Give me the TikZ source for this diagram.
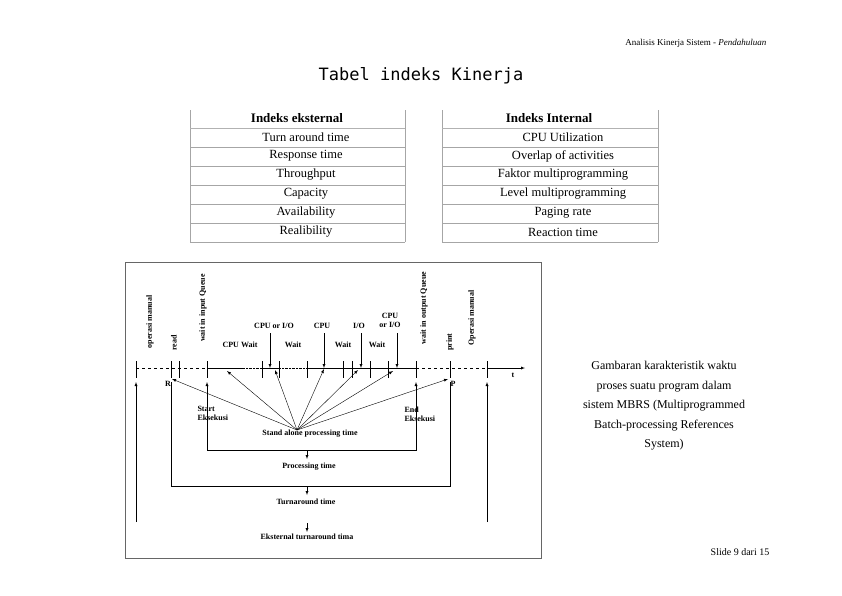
\documentclass[tikz,border=0pt]{standalone}
\usepackage{fontspec}
\setmainfont{Liberation Serif}
\newfontfamily\monof{DejaVu Sans Mono}
\begin{document}
\begin{tikzpicture}[x=1pt,y=-1pt,
  cell/.style={font=\fontsize{12.5}{14}\selectfont},
  hdr/.style={font=\bfseries\fontsize{13}{14}\selectfont},
  lab/.style={font=\bfseries\fontsize{8}{9}\selectfont},
  vlab/.style={font=\bfseries\fontsize{8}{9}\selectfont,rotate=90},
  arr/.style={-latex,thin},
  tick/.style={thin}]
\useasboundingbox (0,0) rectangle (842,595);
\node[anchor=east,font=\fontsize{9}{10}\selectfont] (hd) at (770,43) {Analisis Kinerja Sistem - \textit{Pendahuluan}};
\node[font=\monof\fontsize{17}{19}\selectfont] (title) at (421,76) {Tabel indeks Kinerja};
% tables
\foreach \xa/\xb in {190/405,442/658}{
  \draw[gray!70] (\xa,110) -- (\xa,242);
  \draw[gray!70] (\xb,110) -- (\xb,242);
  \draw[gray!60,line width=1pt] (\xa,128) -- (\xb,128);
  \foreach \y in {147,166,185,204,223,242} \draw[gray!70] (\xa,\y) -- (\xb,\y);
}
\node[hdr] (e0) at (297,118) {Indeks eksternal};
\node[hdr] (i0) at (549,118) {Indeks Internal};
\foreach \t [count=\i] in {Turn around time,Response time,Throughput,Capacity,Availability,Realibility}
  \node[cell] (e\i) at (306,118+19*\i) {\t};
\foreach \t [count=\i] in {CPU Utilization,Overlap of activities,Faktor multiprogramming,Level multiprogramming,Paging rate,Reaction time}
  \node[cell] (i\i) at (563,118+19*\i) {\t};
% diagram frame
\draw[gray!80!black,line width=0.8pt] (125,262) rectangle (541,558);
% axis
\coordinate (aend) at (525,368);
\draw[dashed] (136,368) -- (207,368);
\draw (207,368) -- (243,368);
\draw[densely dotted] (243,368) -- (262,368);
\draw (262,368) -- (279,368);
\draw[densely dotted] (279,368) -- (307,368);
\draw (307,368) -- (416,368);
\draw[dashed] (416,368) -- (487,368);
\draw[-latex] (487,368) -- (aend);
\node[lab] (t) at (513,375) {t};
\foreach \x in {136,171,179,207,262,279,307,343,352,370,388,416,450,487}
  \draw[tick] (\x,361) -- (\x,378);
% vertical labels
\node[vlab] (v1) at (150,322) {operasi manual};
\node[vlab] (v2) at (174,343) {read};
\node[vlab] (v3) at (203,308) {wait in input Queue};
\node[vlab] (v4) at (424,308) {wait in output Queue};
\node[vlab] (v5) at (450,342) {print};
\node[vlab] (v6) at (472,318) {Operasi manual};
% labels
\node[lab] (l1) at (274,326) {CPU or I/O};
\node[lab] (l2) at (322,326) {CPU};
\node[lab] (l3) at (359,326) {I/O};
\node[lab,align=center] (l4) at (390,320) {CPU\\or I/O};
\node[lab] (w1) at (240,345) {CPU Wait};
\node[lab] (w2) at (293,345) {Wait};
\node[lab] (w3) at (343,345) {Wait};
\node[lab] (w4) at (377,345) {Wait};
\coordinate (p1) at (270,368); \coordinate (p2) at (324,368);
\coordinate (p3) at (361,368); \coordinate (p4) at (397,368);
\draw[arr] (270,333) -- (p1);
\draw[arr] (324,333) -- (p2);
\draw[arr] (361,333) -- (p3);
\draw[arr] (397,333) -- (p4);
% fan
\node[lab] (sa) at (310,434) {Stand alone processing time};
\coordinate (f0) at (297,430);
\foreach \x/\y in {172/379,227/371,275/370,324/369,358/370,393/371,448/379}
  \draw[arr] (f0) -- (\x,\y);
\node[lab] (R) at (168,384) {R};
\node[lab] (P) at (453,384) {P};
\node[lab,align=left,anchor=north west] (se) at (194,403) {Start\\Eksekusi};
\node[lab,align=left,anchor=north west] (ee) at (401,403) {End\\Eksekusi};
% up arrows
\draw[arr] (136,522) -- (136,382);
\draw[arr] (207,450) -- (207,382);
\draw[arr] (416,450) -- (416,382);
\draw[arr] (487,522) -- (487,382);
% brackets
\draw (207,440) -- (207,450) -- (416,450) -- (416,440);
\draw[arr] (307,450) -- (307,459);
\node[lab] (pt) at (309,467) {Processing time};
\draw (171,382) -- (171,486) -- (450,486) -- (450,382);
\draw[arr] (307,486) -- (307,495);
\node[lab] (tt) at (306,502) {Turnaround time};
\draw[arr] (307,523) -- (307,532);
\node[lab] (et) at (307,537) {Eksternal turnaround tima};
% right text
\node[align=center,font=\fontsize{12}{19.5}\selectfont] (desc) at (664,406) {Gambaran karakteristik waktu\\proses suatu program dalam\\sistem MBRS (Multiprogrammed\\Batch-processing References\\System)};
\node[font=\fontsize{10}{11}\selectfont] (sl) at (740,552) {Slide 9 dari 15};
\end{tikzpicture}
\end{document}
